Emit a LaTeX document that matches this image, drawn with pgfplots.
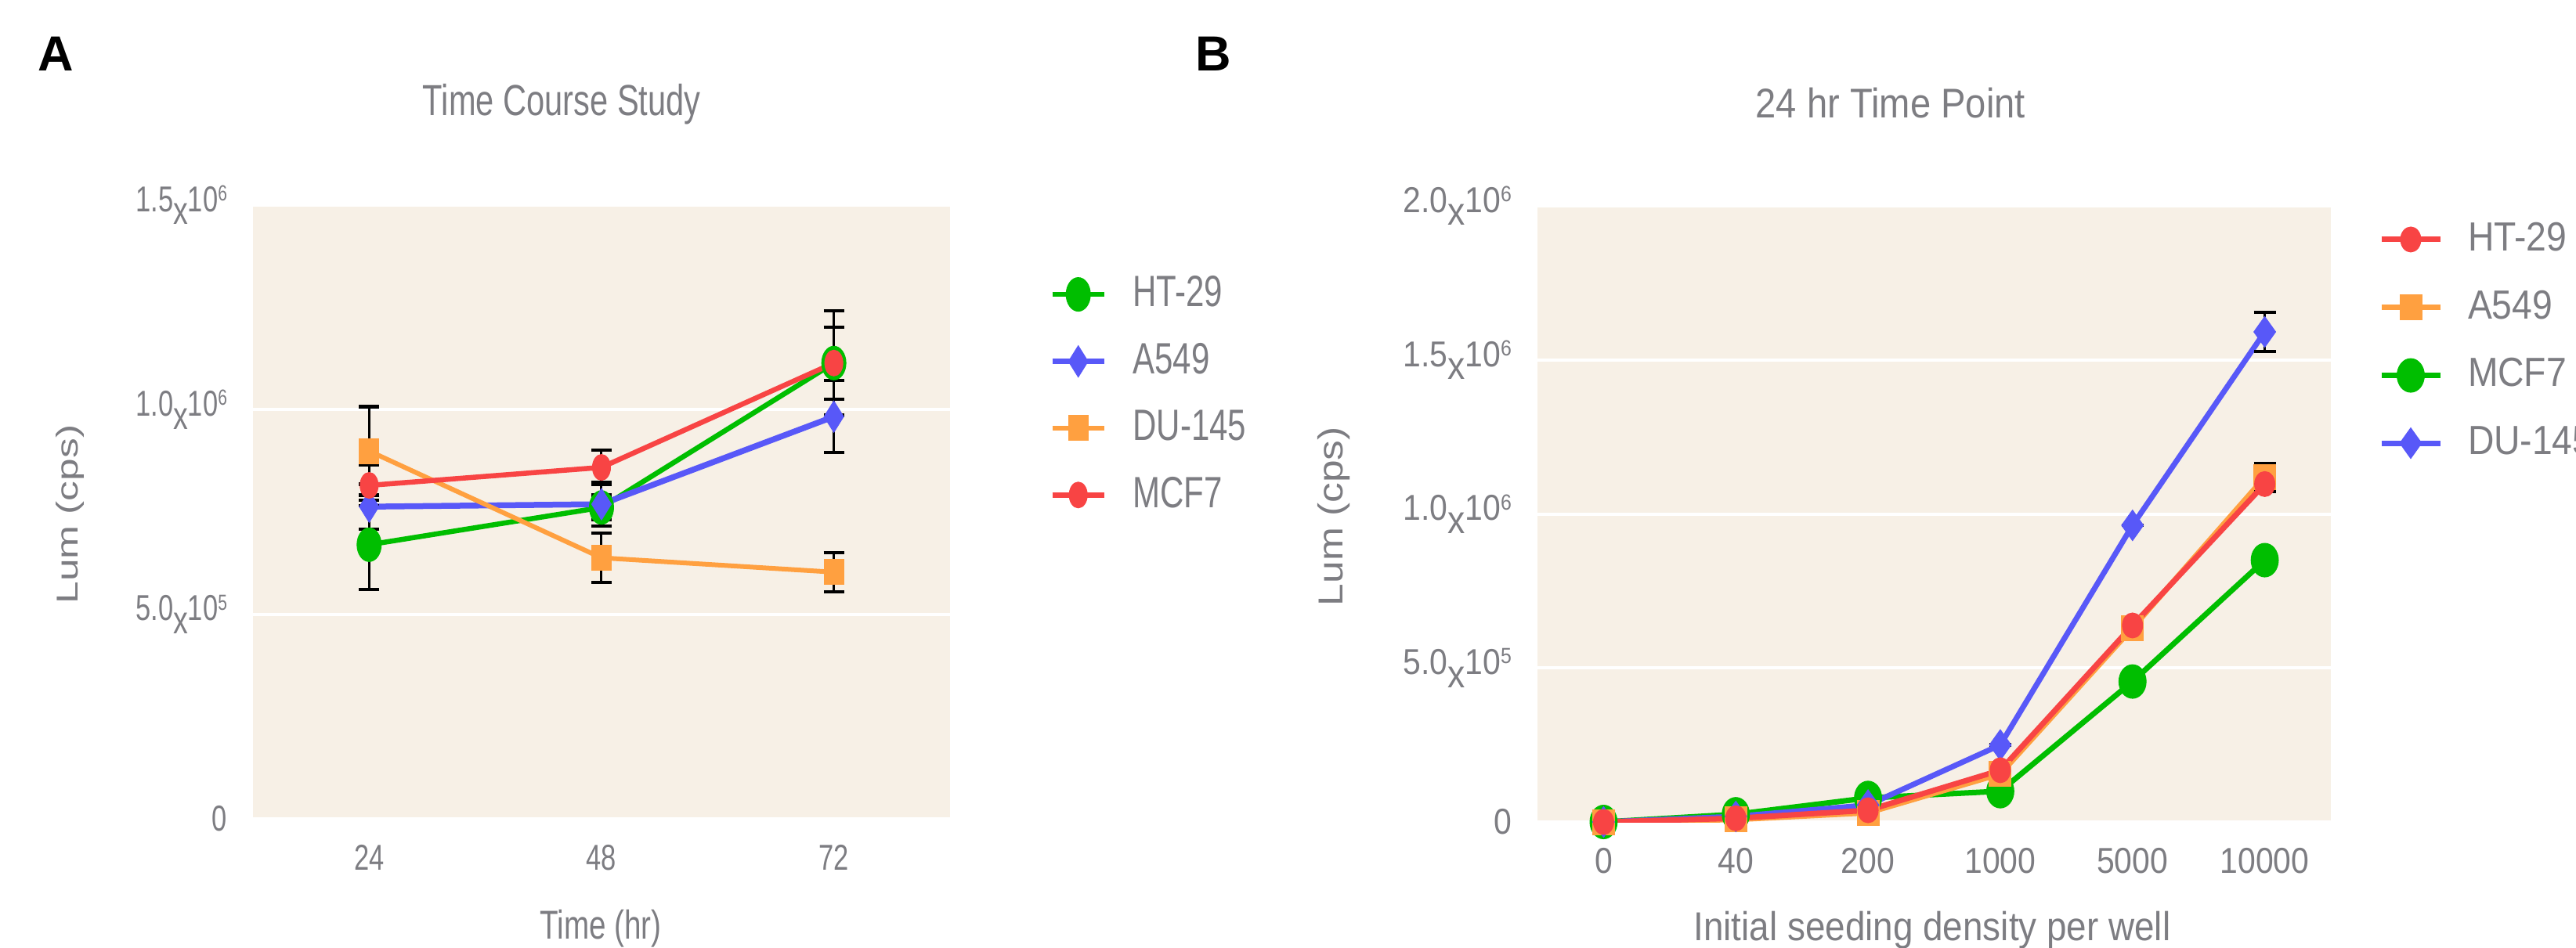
\documentclass[border=0pt]{standalone}
\usepackage{fontspec}
\usepackage{pgfplots}
\pgfplotsset{compat=1.18}
\setmainfont{Liberation Sans}
\newfontfamily\fA{Liberation Sans}[FakeStretch=0.75]
\newfontfamily\fB{Liberation Sans}[FakeStretch=0.89]
\definecolor{tgray}{RGB}{125,125,130}
\definecolor{bgc}{RGB}{247,240,230}
\definecolor{cgreen}{RGB}{0,190,0}
\definecolor{cblue}{RGB}{88,88,248}
\definecolor{corange}{RGB}{255,160,64}
\definecolor{cred}{RGB}{248,68,68}
\newcommand{\sci}[2]{#1\raisebox{-0.36em}{\fontsize{10}{10}\selectfont x}10\raisebox{0.3em}{\fontsize{5.6}{6}\selectfont #2}}

\pgfplotsset{
  myaxis/.style={
    scale only axis,
    axis background/.style={fill=bgc},
    axis line style={draw=none},
    major tick length=0pt,
    ymajorgrids, grid style={white, line width=0.8pt},
    ymin=0,
    scaled y ticks=false,
    tick label style={text=tgray},
    yticklabel style={anchor=east, inner sep=0pt, xshift=-6.4pt},
    xticklabel style={anchor=north, inner sep=0pt, yshift=-6.4pt},
    error bars/y dir=both, error bars/y explicit,
    error bars/error bar style={black, line width=0.6pt, solid},
    legend style={draw=none, fill=none, inner sep=0pt, outer sep=0pt, text=tgray},
    legend cell align=left,
  },
  sAg/.style={cgreen, line width=1.3pt, mark=*, mark size=4.3pt, mark options={xscale=0.72, line width=0.2pt, fill=cgreen}},
  sAb/.style={cblue, line width=1.5pt, mark=diamond*, mark size=4pt, mark options={xscale=0.83, line width=0.2pt, fill=cblue}},
  sAo/.style={corange, line width=1.2pt, mark=square*, mark size=3.2pt, mark options={xscale=0.78, line width=0.2pt, fill=corange}},
  sAr/.style={cred, line width=1.3pt, mark=*, mark size=3.3pt, mark options={xscale=0.70, line width=0.2pt, fill=cred}},
  sBr/.style={cred, line width=1.4pt, mark=*, mark size=3.2pt, mark options={xscale=0.81, line width=0.2pt, fill=cred}},
  sBo/.style={corange, line width=1.4pt, mark=square*, mark size=3.2pt, mark options={xscale=0.875, line width=0.2pt, fill=corange}},
  sBg/.style={cgreen, line width=1.4pt, mark=*, mark size=4.3pt, mark options={xscale=0.81, line width=0.2pt, fill=cgreen}},
  sBb/.style={cblue, line width=1.4pt, mark=diamond*, mark size=3.9pt, mark options={xscale=0.95, line width=0.2pt, fill=cblue}},
}

\begin{document}
\begin{tikzpicture}
\useasboundingbox (0,0) rectangle (657.8pt,242pt);

% ---------------- Panel A ----------------
\begin{axis}[myaxis,
  at={(64.6pt,32.8pt)}, anchor=south west,
  width=178pt, height=156.8pt,
  xmin=12, xmax=84, ymax=1500000,
  xtick={24,48,72},
  xticklabels={24,48,72},
  ytick={0,500000,1000000,1500000},
  yticklabels={0,\sci{5.0}{5},\sci{1.0}{6},\sci{1.5}{6}},
  tick label style={font=\fA\fontsize{9.2}{10}\selectfont},
  error bars/error mark options={black, line width=0.9pt, mark size=2.6pt, rotate=90},
  title={Time Course Study},
  title style={at={(axis description cs:0.443,1.108)}, anchor=base, inner sep=0pt, text=tgray, font=\fA\fontsize{11.1}{12}\selectfont},
  xlabel={Time (hr)},
  xlabel style={at={(axis description cs:0.499,-0.196)}, anchor=base, inner sep=0pt, text=tgray, font=\fA\fontsize{10.3}{12}\selectfont},
  ylabel={Lum (cps)},
  ylabel style={at={(axis description cs:-0.2506,0.496)}, anchor=base, inner sep=0pt, yscale=0.75, text=tgray, font=\fontsize{10.3}{12}\selectfont},
  legend style={at={(axis description cs:1.1427,0.897)}, anchor=north west, font=\fA\fontsize{11.2}{12}\selectfont, row sep=3.8pt, /tikz/every odd column/.append style={column sep=4.6pt}},
  legend image code/.code={\draw[#1, mark=none] (0pt,0pt) -- (13.2pt,0pt); \draw[#1] plot[only marks] coordinates {(6.6pt,0pt)};},
]
\addplot+[sAg, error bars/.cd, y dir=both, y explicit] coordinates {
  (24,670000) +- (0,109000)
  (48,761000) +- (0,30000)
  (72,1114000) +- (0,128000)
};
\addlegendentry{HT-29}
\addplot+[sAb, error bars/.cd, y dir=both, y explicit] coordinates {
  (24,763000) +- (0,55000)
  (48,769000) +- (0,53000)
  (72,983000) +- (0,88000)
};
\addlegendentry{A549}
\addplot+[sAo, error bars/.cd, y dir=both, y explicit] coordinates {
  (24,899000) +- (0,108000)
  (48,638000) +- (0,60000)
  (72,603000) +- (0,48000)
};
\addlegendentry{DU-145}
\addplot+[sAr, error bars/.cd, y dir=both, y explicit] coordinates {
  (24,815000) +- (0,50000)
  (48,859000) +- (0,42000)
  (72,1114000) +- (0,88000)
};
\addlegendentry{MCF7}
\end{axis}

% ---------------- Panel B ----------------
\begin{axis}[myaxis,
  at={(392.6pt,32pt)}, anchor=south west,
  width=202.6pt, height=157.4pt,
  xmin=-0.5, xmax=5.5, ymax=2000000,
  xtick={0,1,2,3,4,5},
  xticklabels={0,40,200,1000,5000,10000},
  ytick={0,500000,1000000,1500000,2000000},
  yticklabels={0,\sci{5.0}{5},\sci{1.0}{6},\sci{1.5}{6},\sci{2.0}{6}},
  tick label style={font=\fB\fontsize{9.2}{10}\selectfont},
  error bars/error mark options={black, line width=0.9pt, mark size=2.8pt, rotate=90},
  title={24 hr Time Point},
  title style={at={(axis description cs:0.445,1.105)}, anchor=base, inner sep=0pt, text=tgray, font=\fB\fontsize{10.6}{12}\selectfont},
  xlabel={Initial seeding density per well},
  xlabel style={at={(axis description cs:0.4975,-0.193)}, anchor=base, inner sep=0pt, text=tgray, font=\fB\fontsize{10.3}{12}\selectfont},
  ylabel={Lum (cps)},
  ylabel style={at={(axis description cs:-0.2453,0.496)}, anchor=base, inner sep=0pt, yscale=0.86, text=tgray, font=\fontsize{10.3}{12}\selectfont},
  legend style={at={(axis description cs:1.0602,0.986)}, anchor=north west, font=\fB\fontsize{10.4}{12}\selectfont, row sep=4.6pt, /tikz/every odd column/.append style={column sep=4.4pt}},
  legend image code/.code={\draw[#1, mark=none] (0pt,0pt) -- (15pt,0pt); \draw[#1] plot[only marks] coordinates {(7.5pt,0pt)};},
]
\addlegendimage{sBr}
\addlegendentry{HT-29}
\addlegendimage{sBo}
\addlegendentry{A549}
\addlegendimage{sBg}
\addlegendentry{MCF7}
\addlegendimage{sBb}
\addlegendentry{DU-145}
\addplot+[sBg, forget plot] coordinates {
  (0,0) (1,25000) (2,78000) (3,100000) (4,456000) (5,850000)
};
\addplot+[sBo, forget plot, error bars/.cd, y dir=both, y explicit] coordinates {
  (0,0) +- (0,0)
  (1,8000) +- (0,0)
  (2,30000) +- (0,0)
  (3,156000) +- (0,0)
  (4,630000) +- (0,0)
  (5,1119000) +- (0,45000)
};
\addplot+[sBb, forget plot, error bars/.cd, y dir=both, y explicit] coordinates {
  (0,0) +- (0,0)
  (1,18000) +- (0,0)
  (2,55000) +- (0,0)
  (3,250000) +- (0,0)
  (4,963000) +- (0,0)
  (5,1591000) +- (0,63000)
};
\addplot+[sBr, forget plot] coordinates {
  (0,0) (1,12000) (2,38000) (3,168000) (4,638000) (5,1097000)
};
\end{axis}

\node[anchor=base, inner sep=0pt, font=\bfseries\fontsize{12.6}{14}\selectfont] at (14.2pt,224pt) {A};
\node[anchor=base, inner sep=0pt, font=\bfseries\fontsize{12.6}{14}\selectfont] at (309.8pt,224pt) {B};
\end{tikzpicture}
\end{document}
